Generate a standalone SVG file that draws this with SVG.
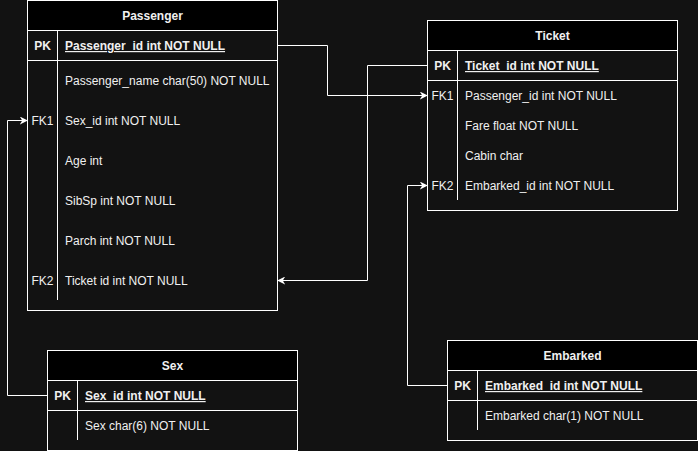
<svg xmlns="http://www.w3.org/2000/svg" width="698" height="451" viewBox="0 0 698 451">
<defs>
<style>
.box{fill:#121212;stroke:#ffffff;stroke-width:1}
.hdr{fill:#000000;stroke:#ffffff;stroke-width:1}
.ln{stroke:#ffffff;stroke-width:1;fill:none}
.t{font-family:"Liberation Sans",Arial,sans-serif;font-size:12px;fill:#f0f0f0}
.b{font-weight:bold}
.c{text-anchor:middle}
.u{text-decoration:underline}
.edge{stroke:#ffffff;stroke-width:1;fill:none;marker-end:url(#arr)}
</style>
<marker id="arr" viewBox="0 0 10 10" refX="9" refY="5" markerWidth="8" markerHeight="8" markerUnits="userSpaceOnUse" orient="auto">
<path d="M0,0 L10,5 L0,10 L3,5 Z" fill="#ffffff"/>
</marker>
</defs>
<rect x="0" y="0" width="698" height="451" fill="#121212"/>

<g id="passenger">
<rect class="box" x="27.5" y="0.5" width="250" height="310"/>
<rect class="hdr" x="27.5" y="0.5" width="250" height="30"/>
<line class="ln" x1="27.5" y1="60.5" x2="277.5" y2="60.5"/>
<line class="ln" x1="57.5" y1="30.5" x2="57.5" y2="300"/>
<text class="t b c" x="152.5" y="20">Passenger</text>
<text class="t b c" x="42.5" y="50">PK</text>
<text class="t b u" x="65" y="50">Passenger_id int NOT NULL</text>
<text class="t" x="65" y="85">Passenger_name char(50) NOT NULL</text>
<text class="t c" x="42.5" y="125">FK1</text>
<text class="t" x="65" y="125">Sex_id int NOT NULL</text>
<text class="t" x="65" y="165">Age int</text>
<text class="t" x="65" y="205">SibSp int NOT NULL</text>
<text class="t" x="65" y="245">Parch int NOT NULL</text>
<text class="t c" x="42.5" y="285">FK2</text>
<text class="t" x="65" y="285">Ticket id int NOT NULL</text>
</g>

<g id="ticket">
<rect class="box" x="427.5" y="20.5" width="250" height="190"/>
<rect class="hdr" x="427.5" y="20.5" width="250" height="30"/>
<line class="ln" x1="427.5" y1="80.5" x2="677.5" y2="80.5"/>
<line class="ln" x1="457.5" y1="50.5" x2="457.5" y2="200"/>
<text class="t b c" x="552.5" y="40">Ticket</text>
<text class="t b c" x="442.5" y="70">PK</text>
<text class="t b u" x="465" y="70">Ticket_id int NOT NULL</text>
<text class="t c" x="442.5" y="100">FK1</text>
<text class="t" x="465" y="100">Passenger_id int NOT NULL</text>
<text class="t" x="465" y="130">Fare float NOT NULL</text>
<text class="t" x="465" y="160">Cabin char</text>
<text class="t c" x="442.5" y="190">FK2</text>
<text class="t" x="465" y="190">Embarked_id int NOT NULL</text>
</g>

<g id="sex">
<rect class="box" x="47.5" y="350.5" width="250" height="100"/>
<rect class="hdr" x="47.5" y="350.5" width="250" height="30"/>
<line class="ln" x1="47.5" y1="410.5" x2="297.5" y2="410.5"/>
<line class="ln" x1="77.5" y1="380.5" x2="77.5" y2="440"/>
<text class="t b c" x="172.5" y="370">Sex</text>
<text class="t b c" x="62.5" y="400">PK</text>
<text class="t b u" x="85" y="400">Sex_id int NOT NULL</text>
<text class="t" x="85" y="430">Sex char(6) NOT NULL</text>
</g>

<g id="embarked">
<rect class="box" x="447.5" y="340.5" width="250" height="100"/>
<rect class="hdr" x="447.5" y="340.5" width="250" height="30"/>
<line class="ln" x1="447.5" y1="400.5" x2="697.5" y2="400.5"/>
<line class="ln" x1="477.5" y1="370.5" x2="477.5" y2="430"/>
<text class="t b c" x="572.5" y="360">Embarked</text>
<text class="t b c" x="462.5" y="390">PK</text>
<text class="t b u" x="485" y="390">Embarked_id int NOT NULL</text>
<text class="t" x="485" y="420">Embarked char(1) NOT NULL</text>
</g>

<g id="connectors">
<path class="edge" d="M277.5,45.5 H327.5 V95.5 H427"/>
<path class="edge" d="M427.5,65.5 H367.5 V280.5 H278"/>
<path class="edge" d="M47.5,395.5 H7.5 V120.5 H27"/>
<path class="edge" d="M447.5,385.5 H407.5 V185.5 H427"/>
</g>
</svg>
